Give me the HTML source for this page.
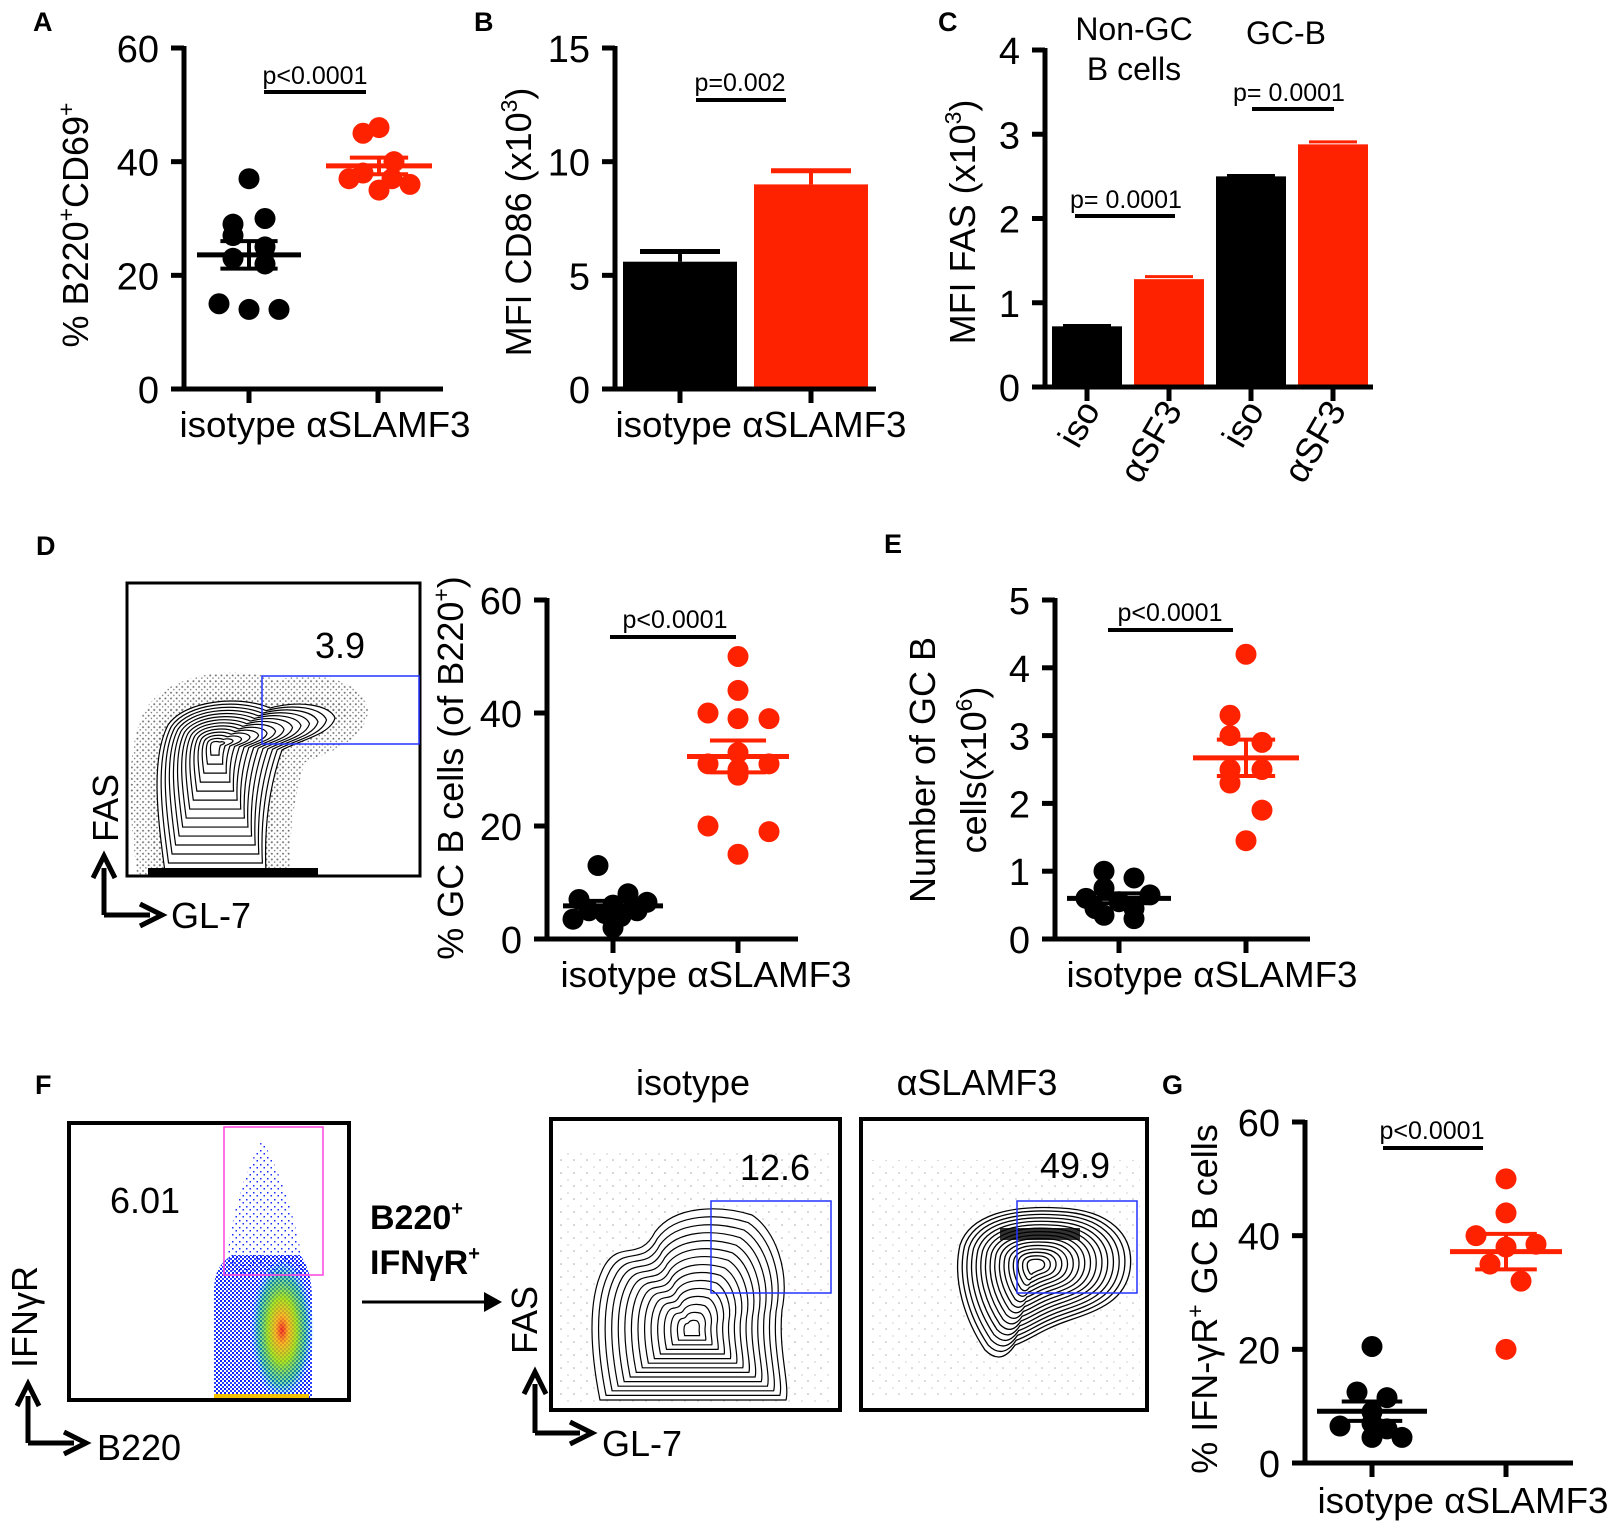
<!DOCTYPE html>
<html><head><meta charset="utf-8"><style>
html,body{margin:0;padding:0;background:#fff}
svg{display:block;font-family:"Liberation Sans",Arial,sans-serif}
</style></head><body>
<svg id="fig" xmlns="http://www.w3.org/2000/svg" width="1614" height="1530" viewBox="0 0 1614 1530">
<defs>
<pattern id="stip" width="5" height="5" patternUnits="userSpaceOnUse"><circle cx="1.5" cy="1.5" r="0.9" fill="#000"/><circle cx="4" cy="3.8" r="0.7" fill="#000"/></pattern>
<pattern id="stipS" width="13" height="13" patternUnits="userSpaceOnUse"><circle cx="2" cy="3" r="0.8" fill="#000"/><circle cx="9" cy="10" r="0.6" fill="#000"/></pattern>
<pattern id="blueD" width="4" height="4" patternUnits="userSpaceOnUse"><rect width="4" height="4" fill="#fff"/><rect x="0" y="0" width="2" height="2" fill="#1020ff"/><rect x="2" y="2" width="2" height="2" fill="#2a40ff"/></pattern>
<pattern id="blueS" width="7" height="7" patternUnits="userSpaceOnUse"><rect x="1" y="2" width="1.5" height="1.5" fill="#1a2cff"/><rect x="4.5" y="5" width="1.5" height="1.5" fill="#1a2cff"/></pattern>
<radialGradient id="heat" cx="50%" cy="50%" r="50%"><stop offset="0" stop-color="#ff2000"/><stop offset="0.2" stop-color="#ffb000"/><stop offset="0.45" stop-color="#a0e000"/><stop offset="0.75" stop-color="#00c060" stop-opacity="0.6"/><stop offset="1" stop-color="#00a0ff" stop-opacity="0"/></radialGradient>
<clipPath id="clipD"><rect x="127" y="583" width="293" height="293"/></clipPath>
</defs>
<g id="root"></g>
</svg>
<script>
// ---------- data ----------
var catLabels = ["isotype", "αSLAMF3"];
var aIso = [37, 30, 29, 27, 25, 23, 22, 15, 14, 14];
var aSlam = [46, 45, 40, 38, 37, 37, 36, 35];
var aTicks = [0, 20, 40, 60];
var bMeans = [5.6, 9.0];
var bErr = [0.45, 0.6];
var bTicks = [0, 5, 10, 15];
var cMeans = [0.72, 1.28, 2.5, 2.88];
var cErr = [0.01, 0.03, 0.01, 0.03];
var cTicks = [0, 1, 2, 3, 4];
var cCats = ["iso", "αSF3", "iso", "αSF3"];
var dIso = [13, 8, 7, 6.5, 6, 5, 5, 4.5, 4, 3.5, 2];
var dSlam = [50, 44, 40, 39, 39, 33, 31, 31, 30, 29, 20, 19, 15];
var dTicks = [0, 20, 40, 60];
var eIso = [1.0, 0.9, 0.75, 0.65, 0.6, 0.55, 0.45, 0.45, 0.35, 0.3];
var eSlam = [4.2, 3.3, 3.0, 2.9, 2.5, 2.5, 2.3, 1.9, 1.45];
var eTicks = [0, 1, 2, 3, 4, 5];
var gIso = [20.5, 12.5, 11.5, 9, 7, 6.5, 6, 4.5, 4.5];
var gSlam = [50, 44, 40, 38.5, 38, 35, 32, 20];
var gTicks = [0, 20, 40, 60];

// ---------- layout (jitter offsets, px) ----------
var jitA = [[0,16,-16,-16,16,-16,16,-30,0,30],[0,-16,15,-16,-30,13,31,0]];
var jitD = [[-15,15,-34,34,0,-24,24,-8,8,-40,0],[0,0,-30,31,0,0,-30,31,0,0,-30,31,0]];
var jitE = [[-15,15,-15,31,-33,0,-24,15,-15,15],[0,-16,-16,16,-16,16,-16,16,0]];
var jitG = [[0,-15,15,0,0,-32,15,0,30],[0,0,-30,30,0,-16,15,0]];

var NS = "http://www.w3.org/2000/svg";
var root = document.getElementById('root');
function mk(tag, attrs, parent, txt){
  var e = document.createElementNS(NS, tag);
  for (var k in attrs) e.setAttribute(k, attrs[k]);
  if (txt !== undefined) e.textContent = txt;
  (parent || root).appendChild(e);
  return e;
}
function grp(name){ var g = mk('g', {});   return g; }
function mean(a){ var s=0; a.forEach(function(v){s+=v;}); return s/a.length; }
function sem(a){ var m=mean(a), s=0; a.forEach(function(v){s+=(v-m)*(v-m);}); return Math.sqrt(s/(a.length-1))/Math.sqrt(a.length); }

function makeScale(v0px, vmax, vmaxpx){ return function(v){ return v0px - v*(v0px - vmaxpx)/vmax; }; }

function yAxis(g, ax, y, ticks, top, bottom){
  var l = mk('line', {x1:ax, y1:top-2, x2:ax, y2:bottom+2, stroke:'#000','stroke-width':5}, g);
  
  
  ticks.forEach(function(t){
    var tk = mk('line', {x1:ax-13, y1:y(t), x2:ax, y2:y(t), stroke:'#000','stroke-width':5}, g);
    
    
    var tl = mk('text', {x:ax-25, y:y(t)+14, 'font-size':38, 'text-anchor':'end'}, g, String(t));
    
    
  });
}
function xAxis(g, x1, x2, y0, tickXs){
  var l = mk('line', {x1:x1, y1:y0, x2:x2, y2:y0, stroke:'#000','stroke-width':5}, g);
  
  
  tickXs.forEach(function(tx){
    var tk = mk('line', {x1:tx, y1:y0, x2:tx, y2:y0+14, stroke:'#000','stroke-width':5}, g);
    
    
  });
}
function catText(g, cx, by){
  var t = mk('text', {x:cx, y:by, 'font-size':36, 'text-anchor':'middle', textLength:291, lengthAdjust:'spacingAndGlyphs'}, g, catLabels[0] + " " + catLabels[1]);
  
  
}
function pval(g, txt, cx, by, lx1, lx2, ly){
  var t = mk('text', {x:cx, y:by, 'font-size':25, 'text-anchor':'middle'}, g, txt);
  
  
  var l = mk('line', {x1:lx1, y1:ly, x2:lx2, y2:ly, stroke:'#000','stroke-width':4}, g);
  
  
}
function panelLabel(txt, x, y){
  var t = mk('text', {x:x, y:y, 'font-size':27, 'font-weight':'bold'}, root, txt);
  
  
}
function scatterGroup(g, vals, cx, y, jit, color, meanHalf, name){
  vals.forEach(function(v, i){
    var c = mk('circle', {cx: cx + jit[i], cy: y(v), r: 10.5, fill: color}, g);
    
    
  });
  var m = mean(vals), s = sem(vals);
  var ml = mk('line', {x1:cx-meanHalf, y1:y(m), x2:cx+meanHalf, y2:y(m), stroke:color, 'stroke-width':5}, g);
  
  
  var capH = meanHalf*0.55;
  var e1 = mk('line', {x1:cx, y1:y(m+s), x2:cx, y2:y(m-s), stroke:color, 'stroke-width':4}, g);
  
  
  [m+s, m-s].forEach(function(v){
    var cp = mk('line', {x1:cx-capH, y1:y(v), x2:cx+capH, y2:y(v), stroke:color, 'stroke-width':4}, g);
    
    
  });
}

var RED = '#ff2200';

// ---------- Panel A ----------
(function(){
  var g = grp('panel-a-scatter');
  var y = makeScale(389, 60, 48);
  yAxis(g, 184, y, aTicks, 48, 389);
  xAxis(g, 172, 443, 389, [249, 378]);
  scatterGroup(g, aIso, 249, y, jitA[0], '#000', 52, 'isotype');
  scatterGroup(g, aSlam, 379, y, jitA[1], RED, 53, 'aslamf3');
  catText(g, 325, 437);
  pval(g, 'p<0.0001', 315, 84, 264, 366, 92);
  var t = mk('text', {x:0, y:0, 'font-size':36, 'text-anchor':'middle', transform:'translate(88,225) rotate(-90)'}, g);
  
  
  mk('tspan', {}, t, '% B220');
  mk('tspan', {'font-size':23, dy:-14}, t, '+');
  mk('tspan', {dy:14}, t, 'CD69');
  mk('tspan', {'font-size':23, dy:-14}, t, '+');
})();
panelLabel('A', 33, 31);

// ---------- Panel B ----------
(function(){
  var g = grp('panel-b-bar-chart');
  var y = makeScale(389, 15, 48);
  var xs = [680, 811], w = 114;
  bMeans.forEach(function(v, i){
    var col = i ? RED : '#000';
    var r = mk('rect', {x: xs[i]-w/2, y: y(v), width: w, height: 389 - y(v), fill: col}, g);
    
    
    var e = mk('line', {x1:xs[i], y1:y(v), x2:xs[i], y2:y(v+bErr[i]), stroke:col, 'stroke-width':4}, g);
    
    
    var c = mk('line', {x1:xs[i]-40, y1:y(v+bErr[i]), x2:xs[i]+40, y2:y(v+bErr[i]), stroke:col, 'stroke-width':5}, g);
    
    
  });
  yAxis(g, 615, y, bTicks, 48, 389);
  xAxis(g, 604, 876, 389, xs);
  catText(g, 761, 437);
  pval(g, 'p=0.002', 740, 91, 696, 786, 100);
  var t = mk('text', {x:0, y:0, 'font-size':36, 'text-anchor':'middle', transform:'translate(531,222) rotate(-90)'}, g);
  
  
  mk('tspan', {}, t, 'MFI CD86 (x10');
  mk('tspan', {'font-size':23, dy:-14}, t, '3');
  mk('tspan', {dy:14}, t, ')');
})();
panelLabel('B', 474, 31);

// ---------- Panel C ----------
(function(){
  var g = grp('panel-c-bar-chart');
  var y = makeScale(387, 4, 50);
  var xs = [1087, 1169, 1251, 1333], w = 70;
  cMeans.forEach(function(v, i){
    var col = (i % 2) ? RED : '#000';
    var r = mk('rect', {x: xs[i]-w/2, y: y(v), width: w, height: 387 - y(v), fill: col}, g);
    
    
    var c = mk('line', {x1:xs[i]-24, y1:y(v+cErr[i]), x2:xs[i]+24, y2:y(v+cErr[i]), stroke:col, 'stroke-width':3}, g);
    
    
    var t = mk('text', {x:0, y:0, 'font-size':36, 'text-anchor':'end', transform:'translate('+(xs[i]+14)+',410) rotate(-60)'}, g, cCats[i]);
    
    
  });
  yAxis(g, 1045, y, cTicks, 50, 387);
  xAxis(g, 1040, 1373, 387, xs);
  pval(g, 'p= 0.0001', 1126, 208, 1075, 1175, 216);
  pval(g, 'p= 0.0001', 1289, 101, 1252, 1334, 109);
  var t1 = mk('text', {x:1134, y:40, 'font-size':32, 'text-anchor':'middle'}, g, 'Non-GC');
  
  
  var t2 = mk('text', {x:1134, y:80, 'font-size':32, 'text-anchor':'middle'}, g, 'B cells');
  
  
  var t3 = mk('text', {x:1286, y:44, 'font-size':32, 'text-anchor':'middle'}, g, 'GC-B');
  
  
  var t = mk('text', {x:0, y:0, 'font-size':36, 'text-anchor':'middle', transform:'translate(975,222) rotate(-90)'}, g);
  
  
  mk('tspan', {}, t, 'MFI FAS (x10');
  mk('tspan', {'font-size':23, dy:-14}, t, '3');
  mk('tspan', {dy:14}, t, ')');
})();
panelLabel('C', 938, 31);

// ---------- contour helper (decorative flow plots) ----------
function contours(g, d, cx, cy, n, minS, sw){
  for (var i = 0; i < n; i++){
    var s = 1 - (1 - minS) * i / (n - 1);
    var p = mk('path', {d:d, fill:'none', stroke:'#000', 'stroke-width':sw || 1.3,
      transform:'translate('+cx+','+cy+') scale('+s+','+s+') translate('+(-cx)+','+(-cy)+')', 'vector-effect':'non-scaling-stroke'}, g);
    
    
  }
}
function arrows(g, vx, vtop, hy, hx){
  mk('path', {d:'M'+vx+' '+hy+' V'+(vtop+12)+' M'+vx+' '+hy+' H'+(hx-12), fill:'none', stroke:'#000', 'stroke-width':5}, g);
  mk('path', {d:'M'+(vx-11)+' '+(vtop+22)+' L'+vx+' '+vtop+' L'+(vx+11)+' '+(vtop+22), fill:'none', stroke:'#000', 'stroke-width':5}, g);
  mk('path', {d:'M'+(hx-22)+' '+(hy-11)+' L'+hx+' '+hy+' L'+(hx-22)+' '+(hy+11), fill:'none', stroke:'#000', 'stroke-width':5}, g);
}
function axisTxt(g, txt, x, y, rot, name){
  var t = mk('text', rot ? {x:0, y:0, 'font-size':36, 'text-anchor':'middle', transform:'translate('+x+','+y+') rotate(-90)'} : {x:x, y:y, 'font-size':36}, g, txt);
  
  
  return t;
}

// ---------- Panel D flow ----------
(function(){
  var g = grp('panel-d-flow-plot');
  var gc = mk('g', {'clip-path':'url(#clipD)'}, g);
  var shape = 'M165 872 C158 820 150 760 168 725 C185 700 240 695 270 708 C300 700 330 705 335 718 C330 735 300 740 282 750 C268 790 264 830 266 872 Z';
  mk('path', {d:shape, fill:'url(#stip)', stroke:'url(#stip)', 'stroke-width':34, opacity:0.55, transform:'translate(222,760) scale(1.12,1.15) translate(-222,-760)'}, gc);
  mk('path', {d:shape, fill:'#fff', stroke:'none'}, gc);
  contours(gc, shape, 215, 745, 14, 0.08, 1.2);
  mk('rect', {x:148, y:868, width:170, height:7, fill:'#000'}, gc);
  var box = mk('rect', {x:127, y:583, width:293, height:293, fill:'none', stroke:'#000', 'stroke-width':3}, g);
  
  
  var gate = mk('rect', {x:262, y:676, width:157, height:68, fill:'none', stroke:'#2233ff', 'stroke-width':1.5}, g);
  
  
  var n = mk('text', {x:340, y:658, 'font-size':36, 'text-anchor':'middle'}, g, '3.9');
  
  
  arrows(g, 104, 856, 915, 162);
  axisTxt(g, 'FAS', 118, 808, true, 'y-axis-title');
  axisTxt(g, 'GL-7', 171, 928, false, 'x-axis-title');
})();
panelLabel('D', 36, 555);

// ---------- Panel D scatter ----------
(function(){
  var g = grp('panel-d-scatter');
  var y = makeScale(939, 60, 600);
  yAxis(g, 547, y, dTicks, 600, 939);
  xAxis(g, 540, 798, 939, [613, 738]);
  scatterGroup(g, dIso, 613, y, jitD[0], '#000', 50, 'isotype');
  scatterGroup(g, dSlam, 738, y, jitD[1], RED, 51, 'aslamf3');
  catText(g, 706, 987);
  pval(g, 'p<0.0001', 675, 628, 610, 736, 637);
  var t = mk('text', {x:0, y:0, 'font-size':36, 'text-anchor':'middle', transform:'translate(463,768) rotate(-90)'}, g);
  
  
  mk('tspan', {}, t, '% GC B cells (of B220');
  mk('tspan', {'font-size':23, dy:-14}, t, '+');
  mk('tspan', {dy:14}, t, ')');
})();

// ---------- Panel E ----------
(function(){
  var g = grp('panel-e-scatter');
  var y = makeScale(939, 5, 600);
  yAxis(g, 1055, y, eTicks, 600, 939);
  xAxis(g, 1043, 1310, 939, [1119, 1246]);
  scatterGroup(g, eIso, 1119, y, jitE[0], '#000', 52, 'isotype');
  scatterGroup(g, eSlam, 1246, y, jitE[1], RED, 53, 'aslamf3');
  catText(g, 1212, 987);
  pval(g, 'p<0.0001', 1170, 621, 1108, 1233, 630);
  var t1 = mk('text', {x:0, y:0, 'font-size':36, 'text-anchor':'middle', transform:'translate(935,770) rotate(-90)'}, g, 'Number of GC B');
  
  
  var t = mk('text', {x:0, y:0, 'font-size':36, 'text-anchor':'middle', transform:'translate(986,770) rotate(-90)'}, g);
  
  
  mk('tspan', {}, t, 'cells(x10');
  mk('tspan', {'font-size':23, dy:-14}, t, '6');
  mk('tspan', {dy:14}, t, ')');
})();
panelLabel('E', 884, 553);

// ---------- Panel F: B220 vs IFNgR ----------
(function(){
  var g = grp('panel-f-density-plot');
  mk('path', {d:'M214 1398 V1290 C214 1270 222 1262 232 1255 L300 1255 C308 1265 312 1280 312 1300 V1398 Z', fill:'url(#blueD)'}, g);
  mk('path', {d:'M226 1275 C228 1230 240 1180 262 1140 C285 1180 298 1230 305 1275 Z', fill:'url(#blueS)'}, g);
  mk('ellipse', {cx:282, cy:1330, rx:32, ry:72, fill:'url(#heat)', opacity:0.85}, g);
  mk('rect', {x:214, y:1394, width:95, height:4, fill:'#f0c000'}, g);
  var box = mk('rect', {x:69, y:1123, width:280, height:277, fill:'none', stroke:'#000', 'stroke-width':4}, g);
  
  
  var gate = mk('rect', {x:224, y:1127, width:99, height:148, fill:'none', stroke:'#ff44dd', 'stroke-width':1.5}, g);
  
  
  var n = mk('text', {x:145, y:1213, 'font-size':36, 'text-anchor':'middle'}, g, '6.01');
  
  
  arrows(g, 28, 1384, 1443, 86);
  var yt = mk('text', {x:0, y:0, 'font-size':36, 'text-anchor':'middle', transform:'translate(37,1317) rotate(-90)'}, g, 'IFNγR');
  
  
  axisTxt(g, 'B220', 97, 1460, false, 'x-axis-title');
  var a1 = mk('text', {x:370, y:1229, 'font-size':34, 'font-weight':'bold'}, g);
  
  
  mk('tspan', {}, a1, 'B220');
  mk('tspan', {'font-size':20, dy:-14}, a1, '+');
  var a2 = mk('text', {x:370, y:1274, 'font-size':34, 'font-weight':'bold'}, g);
  
  
  mk('tspan', {}, a2, 'IFNγR');
  mk('tspan', {'font-size':20, dy:-14}, a2, '+');
  mk('line', {x1:362, y1:1302, x2:488, y2:1302, stroke:'#000', 'stroke-width':3}, g);
  mk('path', {d:'M484 1292 L502 1302 L484 1312 Z', fill:'#000'}, g);
})();
panelLabel('F', 35, 1094);

// ---------- Panel F: isotype contour ----------
(function(){
  var g = grp('panel-f-isotype-flow-plot');
  mk('rect', {x:560, y:1150, width:270, height:255, fill:'url(#stipS)', opacity:0.35}, g);
  var shape = 'M600 1400 C592 1360 585 1300 605 1265 C620 1240 640 1262 655 1232 C675 1205 720 1205 752 1215 C775 1230 790 1270 782 1310 C778 1350 790 1385 786 1400 Z';
  mk('path', {d:shape, fill:'#fff', stroke:'none'}, g);
  contours(g, shape, 692, 1330, 15, 0.08, 1.2);
  var box = mk('rect', {x:551, y:1119, width:289, height:291, fill:'none', stroke:'#000', 'stroke-width':4}, g);
  
  
  var gate = mk('rect', {x:711, y:1201, width:120, height:92, fill:'none', stroke:'#2233ff', 'stroke-width':1.5}, g);
  
  
  var n = mk('text', {x:775, y:1180, 'font-size':36, 'text-anchor':'middle'}, g, '12.6');
  
  
  var tt = mk('text', {x:693, y:1095, 'font-size':36, 'text-anchor':'middle'}, g, 'isotype');
  
  
  arrows(g, 535, 1372, 1433, 592);
  axisTxt(g, 'FAS', 537, 1320, true, 'y-axis-title');
  axisTxt(g, 'GL-7', 602, 1456, false, 'x-axis-title');
})();

// ---------- Panel F: aSLAMF3 contour ----------
(function(){
  var g = grp('panel-f-aslamf3-flow-plot');
  mk('rect', {x:870, y:1160, width:270, height:240, fill:'url(#stipS)', opacity:0.3}, g);
  var shape = 'M985 1350 C965 1320 952 1280 960 1245 C970 1215 1010 1205 1060 1208 C1110 1210 1135 1235 1130 1270 C1125 1300 1100 1310 1070 1320 C1040 1330 1030 1340 1015 1345 C1005 1360 995 1360 985 1350 Z';
  mk('path', {d:shape, fill:'#fff', stroke:'none'}, g);
  contours(g, shape, 1035, 1265, 16, 0.1, 1.3);
  mk('rect', {x:1000, y:1228, width:80, height:12, fill:'#000', opacity:0.8}, g);
  var box = mk('rect', {x:861, y:1119, width:286, height:291, fill:'none', stroke:'#000', 'stroke-width':4}, g);
  
  
  var gate = mk('rect', {x:1017, y:1201, width:120, height:92, fill:'none', stroke:'#2233ff', 'stroke-width':1.5}, g);
  
  
  var n = mk('text', {x:1075, y:1178, 'font-size':36, 'text-anchor':'middle'}, g, '49.9');
  
  
  var tt = mk('text', {x:977, y:1095, 'font-size':36, 'text-anchor':'middle'}, g, 'αSLAMF3');
  
  
})();

// ---------- Panel G ----------
(function(){
  var g = grp('panel-g-scatter');
  var y = makeScale(1463, 60, 1122);
  yAxis(g, 1305, y, gTicks, 1122, 1463);
  xAxis(g, 1293, 1573, 1463, [1372, 1506]);
  scatterGroup(g, gIso, 1372, y, jitG[0], '#000', 55, 'isotype');
  scatterGroup(g, gSlam, 1506, y, jitG[1], RED, 56, 'aslamf3');
  catText(g, 1463, 1513);
  pval(g, 'p<0.0001', 1432, 1139, 1383, 1483, 1148);
  var t = mk('text', {x:0, y:0, 'font-size':36, 'text-anchor':'middle', transform:'translate(1217,1299) rotate(-90)'}, g);
  
  
  mk('tspan', {}, t, '% IFN-γR');
  mk('tspan', {'font-size':23, dy:-14}, t, '+');
  mk('tspan', {dy:14}, t, ' GC B cells');
})();
panelLabel('G', 1162, 1094);
</script>
</body></html>
